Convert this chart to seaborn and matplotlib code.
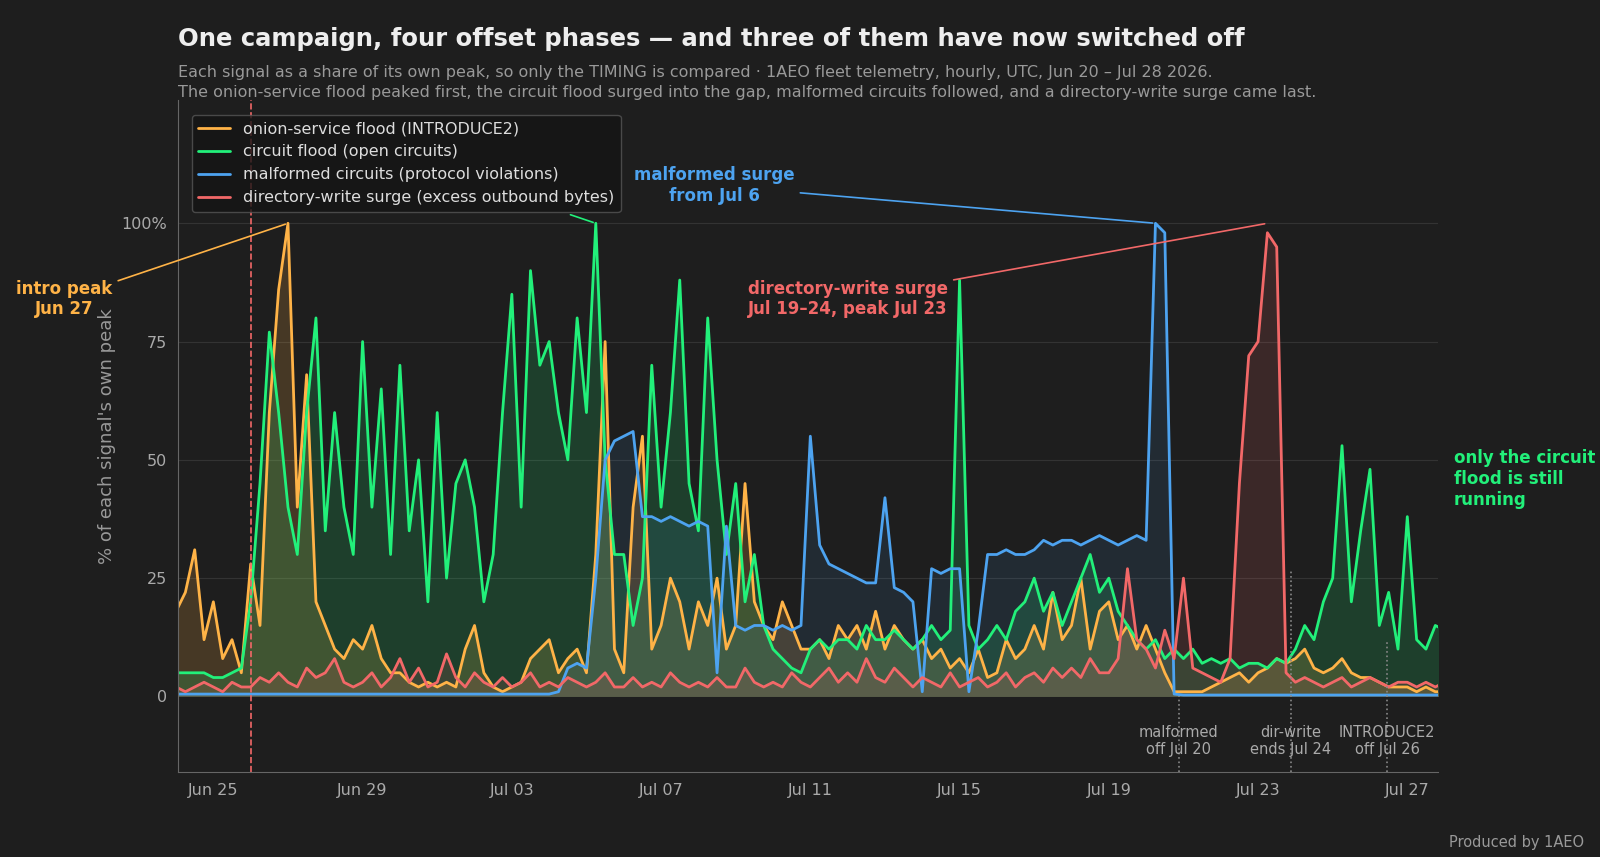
import matplotlib
matplotlib.use("Agg")
import matplotlib.pyplot as plt
import matplotlib.dates as mdates
import numpy as np
import pandas as pd
import seaborn as sns

# ── data: 6-hourly readings, % of each signal's own peak ──────────────────────
times = pd.date_range("2026-06-24", periods=137, freq="6h")
tick_days = ["2026-06-25", "2026-06-29", "2026-07-03", "2026-07-07", "2026-07-11",
             "2026-07-15", "2026-07-19", "2026-07-23", "2026-07-27"]

onion = [18,22,31,12, 20,8,12,5, 28,15,60,86, 100,40,68,20, 15,10,8,12,
         10,15,8,5, 5,3,2,3, 2,3,2,10, 15,5,2,1, 2,3,8,10,
         12,5,8,10, 5,30,75,10, 5,40,55,10, 15,25,20,10, 20,15,25,10,
         15,45,20,15, 12,20,15,10, 10,12,8,15, 12,15,10,18, 10,15,12,10,
         12,8,10,6, 8,5,10,4, 5,12,8,10, 15,10,22,12, 15,25,10,18,
         20,12,15,10, 15,10,5,1, 1,1,1,2, 3,4,5,3, 5,6,8,7,
         8,10,6,5, 6,8,5,4, 4,3,2,2, 2,1,2,1, 1]

circuit = [5,5,5,5, 4,4,5,6, 20,45,77,60, 40,30,60,80, 35,60,40,30,
           75,40,65,30, 70,35,50,20, 60,25,45,50, 40,20,30,60, 85,40,90,70,
           75,60,50,80, 60,100,50,30, 30,15,25,70, 40,60,88,45, 35,80,50,30,
           45,20,30,15, 10,8,6,5, 10,12,10,12, 12,10,15,12, 12,14,12,10,
           12,15,12,14, 88,15,10,12, 15,12,18,20, 25,18,22,15, 20,25,30,22,
           25,18,15,12, 10,12,8,10, 8,10,7,8, 7,8,6,7, 7,6,8,7,
           10,15,12,20, 25,53,20,35, 48,15,22,10, 38,12,10,15, 14]

malformed = [0.5] * 40 + [
    0.5,1,6,7, 6,25,50,54, 55,56,38,38, 37,38,37,36, 37,36,5,36,
    15,14,15,15, 14,15,14,15, 55,32,28,27, 26,25,24,24, 42,23,22,20,
    1,27,26,27, 27,1,14,30, 30,31,30,30, 31,33,32,33, 33,32,33,34,
    33,32,33,34, 33,100,98,0.5] + [0.3] * 29

dirwrite = [2,1,2,3, 2,1,3,2, 2,4,3,5, 3,2,6,4, 5,8,3,2,
            3,5,2,4, 8,3,6,2, 3,9,4,2, 5,3,2,4, 2,3,5,2,
            3,2,4,3, 2,3,5,2, 2,4,2,3, 2,5,3,2, 3,2,4,2,
            2,6,3,2, 3,2,5,3, 2,4,6,3, 5,3,8,4, 3,6,4,2,
            4,3,2,5, 2,3,4,2, 3,5,2,4, 5,3,6,4, 6,4,8,5,
            5,8,27,12, 10,6,14,8, 25,6,5,4, 3,8,45,72, 75,98,95,5,
            3,4,3,2, 3,4,2,3, 4,3,2,3, 3,2,3,2, 3]

series = [
    ("onion-service flood (INTRODUCE2)", onion, "#ffb347", 0.18),
    ("circuit flood (open circuits)", circuit, "#22f07a", 0.16),
    ("malformed circuits (protocol violations)", malformed, "#4da3f0", 0.10),
    ("directory-write surge (excess outbound bytes)", dirwrite, "#f26868", 0.14),
]

BG = "#1e1e1e"
sns.set_style("dark", {"axes.facecolor": BG, "figure.facecolor": BG})
plt.rcParams["font.family"] = ["DejaVu Sans"]

fig = plt.figure(figsize=(16, 8.57), dpi=100)
ax = fig.add_axes([0.111, 0.099, 0.788, 0.784])
ax.set_facecolor(BG)

df = pd.DataFrame({"time": times})
for name, vals, col, a in series:
    df[name] = vals
    sns.lineplot(data=df, x="time", y=name, color=col, lw=2, ax=ax, label=name)
    ax.fill_between(df["time"], 0, df[name], color=col, alpha=a, lw=0)

ax.set_xlim(pd.Timestamp("2026-06-24 01:00"), pd.Timestamp("2026-07-27 20:00"))
ax.set_ylim(-16, 126)
ax.set_yticks([0, 25, 50, 75, 100])
ax.set_yticklabels(["0", "25", "50", "75", "100%"])
ax.set_xticks(pd.to_datetime(tick_days))
ax.xaxis.set_major_formatter(mdates.DateFormatter("%b %d"))
ax.tick_params(colors="#aaaaaa", labelsize=11.5, length=4)
ax.set_xlabel("")
ax.set_ylabel("% of each signal's own peak", color="#999999", fontsize=13)
for y in [25, 50, 75, 100]:
    ax.axhline(y, color="#333333", lw=0.8, zorder=0)
for s in ["top", "right"]:
    ax.spines[s].set_visible(False)
for s in ["left", "bottom"]:
    ax.spines[s].set_color("#666666")

ax.axvline(pd.Timestamp("2026-06-26 00:00"), color="#f26868", ls="--", lw=1.2)

# switch-off markers
offs = [("2026-07-20 21:00", "malformed\noff Jul 20", 0),
        ("2026-07-23 21:00", "dir-write\nends Jul 24", 27),
        ("2026-07-26 11:00", "INTRODUCE2\noff Jul 26", 12)]
for t, lab, top in offs:
    ts = pd.Timestamp(t)
    ax.plot([ts, ts], [-16, top], color="#888888", ls=":", lw=1.2)
    ax.text(ts, -6, lab, color="#aaaaaa", fontsize=10.5, ha="center", va="top")

# annotations
ax.annotate("intro peak\nJun 27", xy=(pd.Timestamp("2026-06-27 00:00"), 100),
            xytext=(pd.Timestamp("2026-06-21 00:00"), 84), color="#ffb347",
            fontsize=12, fontweight="bold", ha="center", va="center",
            annotation_clip=False, arrowprops=dict(arrowstyle="-", color="#ffb347", lw=1.2))
ax.annotate("malformed surge\nfrom Jul 6", xy=(pd.Timestamp("2026-07-20 06:00"), 100),
            xytext=(pd.Timestamp("2026-07-08 10:00"), 108), color="#4da3f0",
            fontsize=12, fontweight="bold", ha="center", va="center",
            arrowprops=dict(arrowstyle="-", color="#4da3f0", lw=1.2))
ax.annotate("directory-write surge\nJul 19–24, peak Jul 23", xy=(pd.Timestamp("2026-07-23 06:00"), 100),
            xytext=(pd.Timestamp("2026-07-12 00:00"), 84), color="#f26868",
            fontsize=12, fontweight="bold", ha="center", va="center",
            arrowprops=dict(arrowstyle="-", color="#f26868", lw=1.2))
ax.annotate("", xy=(pd.Timestamp("2026-07-05 06:00"), 100),
            xytext=(pd.Timestamp("2026-07-04 12:00"), 102),
            arrowprops=dict(arrowstyle="-", color="#22f07a", lw=1.2))
ax.text(pd.Timestamp("2026-07-28 06:00"), 46, "only the circuit\nflood is still\nrunning",
        color="#22f07a", fontsize=12, fontweight="bold", ha="left", va="center", clip_on=False)

leg = ax.legend(loc="upper left", fontsize=11.5, frameon=True, facecolor="#151515",
                edgecolor="#555555", labelcolor="#dddddd", bbox_to_anchor=(0.005, 0.99))
for line in leg.get_lines():
    line.set_linewidth(2)

fig.text(0.111, 0.955, "One campaign, four offset phases — and three of them have now switched off",
         color="#eeeeee", fontsize=17.5, fontweight="bold", va="center")
fig.text(0.111, 0.915, "Each signal as a share of its own peak, so only the TIMING is compared · "
         "1AEO fleet telemetry, hourly, UTC, Jun 20 – Jul 28 2026.",
         color="#999999", fontsize=11.5, va="center")
fig.text(0.111, 0.892, "The onion-service flood peaked first, the circuit flood surged into the gap, "
         "malformed circuits followed, and a directory-write surge came last.",
         color="#999999", fontsize=11.5, va="center")
fig.text(0.99, 0.012, "Produced by 1AEO", color="#999999", fontsize=10.5, ha="right")

fig.savefig("out.png", dpi=100, facecolor=BG)
